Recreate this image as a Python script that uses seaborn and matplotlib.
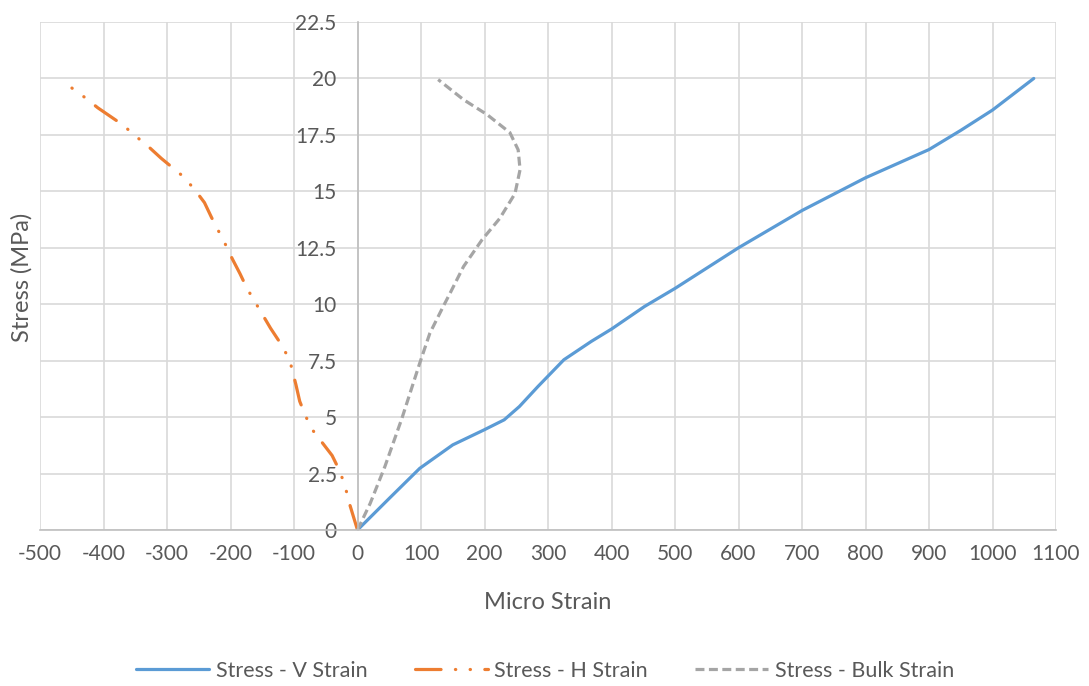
import matplotlib
matplotlib.use("Agg")
import matplotlib.pyplot as plt
import seaborn as sns
import pandas as pd
from matplotlib.ticker import FuncFormatter

# Data
v_strain = [0, 50, 98, 150, 199, 231, 255, 284, 325, 368, 400, 452, 500, 600, 700, 800, 900, 950, 1000, 1065]
v_stress = [0, 1.4, 2.73, 3.77, 4.43, 4.88, 5.47, 6.35, 7.54, 8.35, 8.9, 9.9, 10.7, 12.5, 14.15, 15.6, 16.85, 17.7, 18.6, 20.0]

h_strain = [0, -13, -20, -29, -40, -70, -81, -91, -97, -107, -122, -137, -150, -174, -185, -197, -208, -230, -241, -257, -275, -309, -330, -350, -370, -409, -429, -451]
h_stress = [0, 1.2, 2.0, 2.67, 3.3, 4.4, 5.0, 5.7, 6.44, 7.55, 8.3, 8.94, 9.56, 10.7, 11.35, 12.0, 12.65, 13.85, 14.5, 15.1, 15.67, 16.46, 17.0, 17.46, 17.95, 18.7, 19.15, 19.6]

b_strain = [0, 20, 43, 70, 98, 114, 135, 146, 167, 196, 224, 248, 256, 253, 240, 204, 167, 127]
b_stress = [0, 1.18, 2.8, 4.95, 7.39, 8.72, 9.9, 10.5, 11.67, 12.85, 13.8, 14.9, 15.96, 16.84, 17.6, 18.4, 19.06, 19.95]

series_names = ["Stress - V Strain", "Stress - H Strain", "Stress - Bulk Strain"]
x_ticks = list(range(-500, 1101, 100))
y_ticks = [0, 2.5, 5, 7.5, 10, 12.5, 15, 17.5, 20, 22.5]

sns.set_theme(style="white")
plt.rcParams['font.family'] = ['Lato', 'DejaVu Sans']

TXT = "#595959"
fig = plt.figure(figsize=(10.89, 6.86), dpi=100)
ax = fig.add_axes([40/1089, 1-530/686, (1056-40)/1089, (530-22)/686])

blue = "#5B9BD5"
orange = "#ED7D31"
gray = "#A5A5A5"
lw = 2.3

dv = pd.DataFrame({"x": v_strain, "y": v_stress})
dh = pd.DataFrame({"x": h_strain, "y": h_stress})
db = pd.DataFrame({"x": b_strain, "y": b_stress})

sns.lineplot(data=dv, x="x", y="y", sort=False, estimator=None, ax=ax,
             color=blue, lw=lw, label=series_names[0])
sns.lineplot(data=dh, x="x", y="y", sort=False, estimator=None, ax=ax,
             color=orange, lw=lw, label=series_names[1])
sns.lineplot(data=db, x="x", y="y", sort=False, estimator=None, ax=ax,
             color=gray, lw=lw, label=series_names[2])

lines = ax.get_lines()
for l in lines:
    l.set_solid_joinstyle('round')
lines[1].set_dashes((8, 4.5, 0.1, 4.5, 0.1, 4.5))
lines[1].set_dash_capstyle('round')
lines[2].set_dashes((2.8, 1.4))
lines[2].set_dash_capstyle('butt')

ax.set_xlim(-500, 1100)
ax.set_ylim(0, 22.5)
ax.set_xticks(x_ticks)
ax.set_yticks(y_ticks)
ax.yaxis.set_major_formatter(FuncFormatter(lambda v, p: f"{v:g}"))
ax.xaxis.set_major_formatter(FuncFormatter(lambda v, p: f"{v:g}"))
ax.grid(True, color="#D9D9D9", lw=1.2)
ax.set_axisbelow(True)

for s in ["top", "right"]:
    ax.spines[s].set_visible(False)
ax.spines["left"].set_position(("data", 0))
ax.spines["left"].set_color("#BFBFBF")
ax.spines["bottom"].set_color("#BFBFBF")
ax.spines["left"].set_linewidth(1.2)
ax.spines["bottom"].set_linewidth(1.2)
ax.tick_params(axis="both", length=0, labelsize=15, colors=TXT)
ax.tick_params(axis="x", pad=10)
ax.tick_params(axis="y", pad=15)

ax.set_xlabel("Micro Strain", fontsize=17, color=TXT, labelpad=20)
ax.set_ylabel("")
fig.text(22/1089, 1-277/686, "Stress (MPa)", rotation=90, fontsize=17, color=TXT,
         ha="center", va="center")

leg = ax.legend(loc="center", bbox_to_anchor=(545/1089, 1-671/686), bbox_transform=fig.transFigure,
                ncol=3, frameon=False, fontsize=15.5, handlelength=3.4, columnspacing=2.2,
                handletextpad=0.3)
for t in leg.get_texts():
    t.set_color(TXT)

fig.savefig("out.png", dpi=100)
